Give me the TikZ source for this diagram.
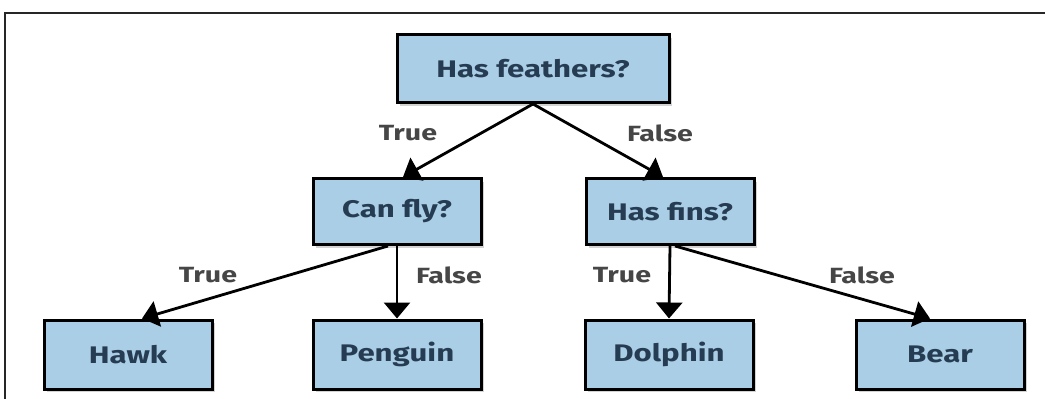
\documentclass[tikz,border=0pt]{standalone}
\usepackage{fontspec}
\setmainfont{Fira Sans}
\newfontfamily\boxfont[FakeStretch=1.3]{Fira Sans}
\usetikzlibrary{arrows.meta,shadows}
\definecolor{boxfill}{RGB}{170,206,230}
\definecolor{boxtext}{RGB}{38,60,82}
\definecolor{lbltext}{RGB}{70,70,70}
\begin{document}
\begin{tikzpicture}[x=1pt,y=-1pt,
  treebox/.style={draw=black, line width=3pt, fill=boxfill, inner sep=0pt,
    minimum width=168pt, minimum height=66pt,
    font=\boxfont\fontsize{24}{28}\selectfont\bfseries, text=boxtext,
    drop shadow={shadow xshift=3pt, shadow yshift=-3pt, opacity=0.35}},
  leafbox/.style={treebox, minimum height=69pt},
  lbl/.style={font=\boxfont\fontsize{22}{26}\selectfont\bfseries, text=lbltext, inner sep=0pt},
  edge/.style={line width=2.8pt, -{Triangle[width=26pt,length=16pt]}}
]
\useasboundingbox (0,0) rectangle (1045,399);
\draw[line width=2pt, black!85] (5,399) -- (5,13) -- (1045,13);

\node[treebox, minimum width=272pt, minimum height=68pt] (root) at (533,68.5) {Has feathers?};
\node[treebox] (cf) at (397,211.5) {Can fly?};
\node[treebox] (hf) at (670,211.5) {Has fins?};
\node[leafbox] (hawk) at (128,354.5) {Hawk};
\node[leafbox] (penguin) at (397,354.5) {Penguin};
\node[leafbox] (dolphin) at (669,354.5) {Dolphin};
\node[leafbox] (bear) at (940,354.5) {Bear};

\draw[edge] (root.south) -- ([xshift=6pt]cf.north);
\draw[edge] (root.south) -- ([xshift=-7pt]hf.north);
\draw[edge] ([xshift=-9pt]cf.south) -- ([xshift=14pt]hawk.north);
\draw[edge] (cf.south) -- (penguin.north);
\draw[edge] (hf.south) -- (dolphin.north);
\draw[edge] ([xshift=5pt]hf.south) -- ([xshift=-10pt]bear.north);

\node[lbl] (t1) at (408,133) {True};
\node[lbl] (f1) at (660,133) {False};
\node[lbl] (t2) at (208,275) {True};
\node[lbl] (f2) at (449,275) {False};
\node[lbl] (t3) at (622,275) {True};
\node[lbl] (f3) at (862,275) {False};
\end{tikzpicture}
\end{document}
